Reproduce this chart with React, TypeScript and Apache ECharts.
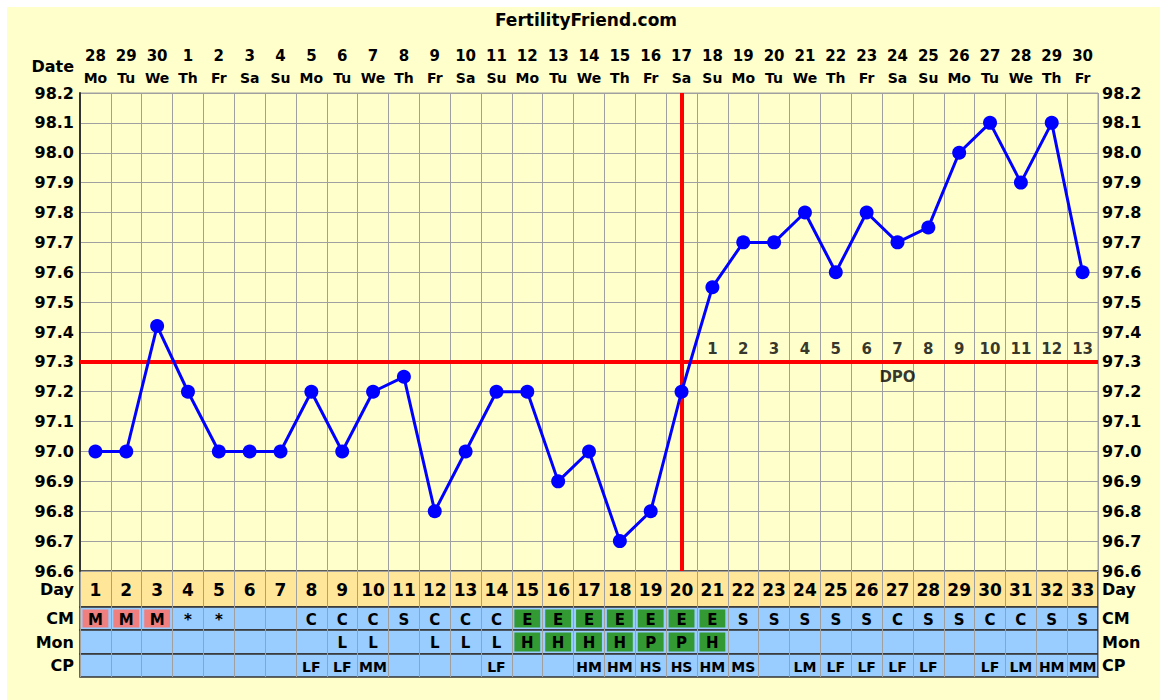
import React, { useEffect, useRef } from 'react';
import * as echarts from 'echarts';

// ---------- data ----------
const days = ['1','2','3','4','5','6','7','8','9','10','11','12','13','14','15','16','17','18','19','20','21','22','23','24','25','26','27','28','29','30','31','32','33'];
const dates = ['28','29','30','1','2','3','4','5','6','7','8','9','10','11','12','13','14','15','16','17','18','19','20','21','22','23','24','25','26','27','28','29','30'];
const weekdays = ['Mo','Tu','We','Th','Fr','Sa','Su','Mo','Tu','We','Th','Fr','Sa','Su','Mo','Tu','We','Th','Fr','Sa','Su','Mo','Tu','We','Th','Fr','Sa','Su','Mo','Tu','We','Th','Fr'];
const temps = [97.0, 97.0, 97.42, 97.2, 97.0, 97.0, 97.0, 97.2, 97.0, 97.2, 97.25, 96.8, 97.0, 97.2, 97.2, 96.9, 97.0, 96.7, 96.8, 97.2, 97.55, 97.7, 97.7, 97.8, 97.6, 97.8, 97.7, 97.75, 98.0, 98.1, 97.9, 98.1, 97.6];
const tempMin = 96.6;
const tempMax = 98.2;
const tempStep = 0.1;
const coverline = 97.3;
const ovulationDay = '20';
const dpoLabels = ['','','','','','','','','','','','','','','','','','','','','1','2','3','4','5','6','7','8','9','10','11','12','13'];
const dpoTitle = 'DPO';
const dpoTitleDay = '27';
const cmValues = ['M','M','M','*','*','','','C','C','C','S','C','C','C','E','E','E','E','E','E','E','S','S','S','S','S','C','S','S','C','C','S','S'];
const monValues = ['','','','','','','','','L','L','','L','L','L','H','H','H','H','P','P','H','','','','','','','','','','','',''];
const cpValues = ['','','','','','','','LF','LF','MM','','','','LF','','','HM','HM','HS','HS','HM','MS','','LM','LF','LF','LF','LF','','LF','LM','HM','MM'];
const rowNames = ['Day', 'CM', 'Mon', 'CP'];
const titleText = 'FertilityFriend.com';
const dateLabel = 'Date';

// ---------- styles ----------
const FONT = '"DejaVu Sans", Verdana, sans-serif';
const BG = '#FFFFCC';
const GRID = '#A0A0A0';
const DARK = '#333333';
const DAY_BG = '#FFE699';
const BLUE_BG = '#99CCFF';
const PINK = '#F08080';
const GREEN = '#339933';
const RED = '#FF0000';
const LINE = '#0000FF';

const cmFills: Record<string, string> = { M: PINK, E: GREEN };
const monFills: Record<string, string> = { H: GREEN, P: GREEN };
const noFills: Record<string, string> = {};

export default function App() {
  const ref = useRef<HTMLDivElement>(null);

  useEffect(() => {
    document.body.style.margin = '0';
    if (!ref.current) return;
    const chart = echarts.init(ref.current, null, { renderer: 'svg' });

    const L = 73;
    const W = 1018;
    const rowGrids = [
      { top: 564, height: 36, bg: DAY_BG },
      { top: 600, height: 23, bg: BLUE_BG },
      { top: 623, height: 24, bg: BLUE_BG },
      { top: 647, height: 23, bg: BLUE_BG },
    ];

    const grids: any[] = [
      { left: L, width: W, top: 86, height: 478, show: true, backgroundColor: 'transparent', borderColor: GRID, borderWidth: 1 },
      ...rowGrids.map((g) => ({ left: L, width: W, top: g.top, height: g.height, show: true, backgroundColor: g.bg, borderColor: DARK, borderWidth: 1.5 })),
    ];

    const xAxes: any[] = [
      {
        type: 'category', gridIndex: 0, data: days, position: 'top', boundaryGap: true,
        axisLine: { show: false }, axisTick: { show: false },
        splitLine: { show: true, lineStyle: { color: GRID, width: 1 } },
        axisLabel: {
          interval: 0, margin: 4,
          formatter: (_v: string, i: number) => `{d|${dates[i]}}\n{w|${weekdays[i]}}`,
          rich: {
            d: { fontFamily: FONT, fontWeight: 'bold', fontSize: 15, color: '#000', lineHeight: 22, align: 'center' },
            w: { fontFamily: FONT, fontWeight: 'bold', fontSize: 14, color: '#000', lineHeight: 22, align: 'center' },
          },
        },
      },
      ...rowGrids.map((_, k) => ({
        type: 'category', gridIndex: k + 1, data: days, boundaryGap: true,
        axisLine: { show: false }, axisTick: { show: false }, axisLabel: { show: false },
        splitLine: { show: true, lineStyle: { color: GRID, width: 1 } },
      })),
    ];

    const yLabel = { fontFamily: FONT, fontWeight: 'bold', fontSize: 16, color: '#000' };
    const yAxes: any[] = [
      {
        type: 'value', gridIndex: 0, min: tempMin, max: tempMax, interval: tempStep,
        axisLine: { show: true, lineStyle: { color: DARK, width: 2 } }, axisTick: { show: false },
        splitLine: { show: true, lineStyle: { color: GRID, width: 1 } },
        axisLabel: { ...yLabel, margin: 6, formatter: (v: number) => v.toFixed(1) },
      },
      {
        type: 'value', gridIndex: 0, position: 'right', min: tempMin, max: tempMax, interval: tempStep,
        axisLine: { show: false }, axisTick: { show: false }, splitLine: { show: false },
        axisLabel: { ...yLabel, margin: 4, formatter: (v: number) => v.toFixed(1) },
      },
    ];
    rowNames.forEach((name, k) => {
      const common = {
        type: 'category', gridIndex: k + 1, data: [name],
        axisLine: { show: false }, axisTick: { show: false }, splitLine: { show: false },
      };
      yAxes.push({ ...common, position: 'left', axisLabel: { ...yLabel, fontSize: 16, margin: 6 } });
      yAxes.push({ ...common, position: 'right', axisLabel: { ...yLabel, fontSize: 16, margin: 4 } });
    });

    const makeRow = (k: number, values: string[], fills: Record<string, string>, fontSize: number) => ({
      type: 'custom',
      xAxisIndex: k,
      yAxisIndex: k * 2,
      silent: true,
      data: values.map((_, i) => [i, 0]),
      renderItem: (params: any, api: any) => {
        const i = params.dataIndex;
        const c = api.coord([api.value(0), 0]);
        const s = api.size([1, 1]);
        const w = s[0];
        const h = s[1];
        const children: any[] = [];
        const fill = fills[values[i]];
        if (fill) {
          children.push({
            type: 'rect',
            shape: { x: c[0] - w / 2 + 2.5, y: c[1] - h / 2 + 2.5, width: w - 5, height: h - 5 },
            style: { fill },
          });
        }
        if (values[i]) {
          children.push({
            type: 'text',
            style: {
              text: values[i], x: c[0], y: c[1] + 1, align: 'center', verticalAlign: 'middle',
              fontFamily: FONT, fontWeight: 'bold', fontSize, fill: '#000',
            },
          });
        }
        return { type: 'group', children };
      },
    });

    const series: any[] = [
      {
        type: 'line', xAxisIndex: 0, yAxisIndex: 0, data: [], z: 1, silent: true,
        markLine: {
          silent: true, symbol: ['none', 'none'], label: { show: false },
          lineStyle: { color: RED, width: 4, type: 'solid' },
          data: [{ yAxis: coverline }, { xAxis: ovulationDay }],
        },
      },
      {
        type: 'line', xAxisIndex: 0, yAxisIndex: 0, data: temps, z: 5,
        symbol: 'circle', symbolSize: 14,
        itemStyle: { color: LINE },
        lineStyle: { color: LINE, width: 3 },
      },
      {
        type: 'scatter', xAxisIndex: 0, yAxisIndex: 0, z: 4, silent: true,
        symbol: 'circle', symbolSize: 1, itemStyle: { color: 'rgba(0,0,0,0)' },
        data: dpoLabels
          .map((t, i) => ({ name: t, value: [days[i], coverline] }))
          .filter((d) => d.name !== ''),
        label: {
          show: true, position: 'top', distance: 5, formatter: '{b}',
          fontFamily: FONT, fontWeight: 'bold', fontSize: 15, color: '#000',
        },
      },
      {
        type: 'scatter', xAxisIndex: 0, yAxisIndex: 0, z: 4, silent: true,
        symbol: 'circle', symbolSize: 1, itemStyle: { color: 'rgba(0,0,0,0)' },
        data: [{ name: dpoTitle, value: [dpoTitleDay, coverline] }],
        label: {
          show: true, position: 'bottom', distance: 7, formatter: '{b}',
          fontFamily: FONT, fontWeight: 'bold', fontSize: 15, color: '#000',
        },
      },
      makeRow(1, days, noFills, 17),
      makeRow(2, cmValues, cmFills, 15),
      makeRow(3, monValues, monFills, 15),
      makeRow(4, cpValues, noFills, 14),
    ];

    chart.setOption({
      animation: false,
      backgroundColor: BG,
      grid: grids,
      xAxis: xAxes,
      yAxis: yAxes,
      series,
      graphic: [
        {
          type: 'text', x: 579, y: 13,
          style: { text: titleText, align: 'center', verticalAlign: 'middle', fontFamily: FONT, fontWeight: 'bold', fontSize: 17, fill: '#000' },
        },
        {
          type: 'text', x: 67, y: 59,
          style: { text: dateLabel, align: 'right', verticalAlign: 'middle', fontFamily: FONT, fontWeight: 'bold', fontSize: 16, fill: '#000' },
        },
      ],
    });

    return () => chart.dispose();
  }, []);

  return (
    <div style={{ width: 1160, height: 700, background: '#fff', position: 'relative', overflow: 'hidden' }}>
      <div ref={ref} style={{ position: 'absolute', left: 7, top: 7, width: 1153, height: 693 }} />
    </div>
  );
}
